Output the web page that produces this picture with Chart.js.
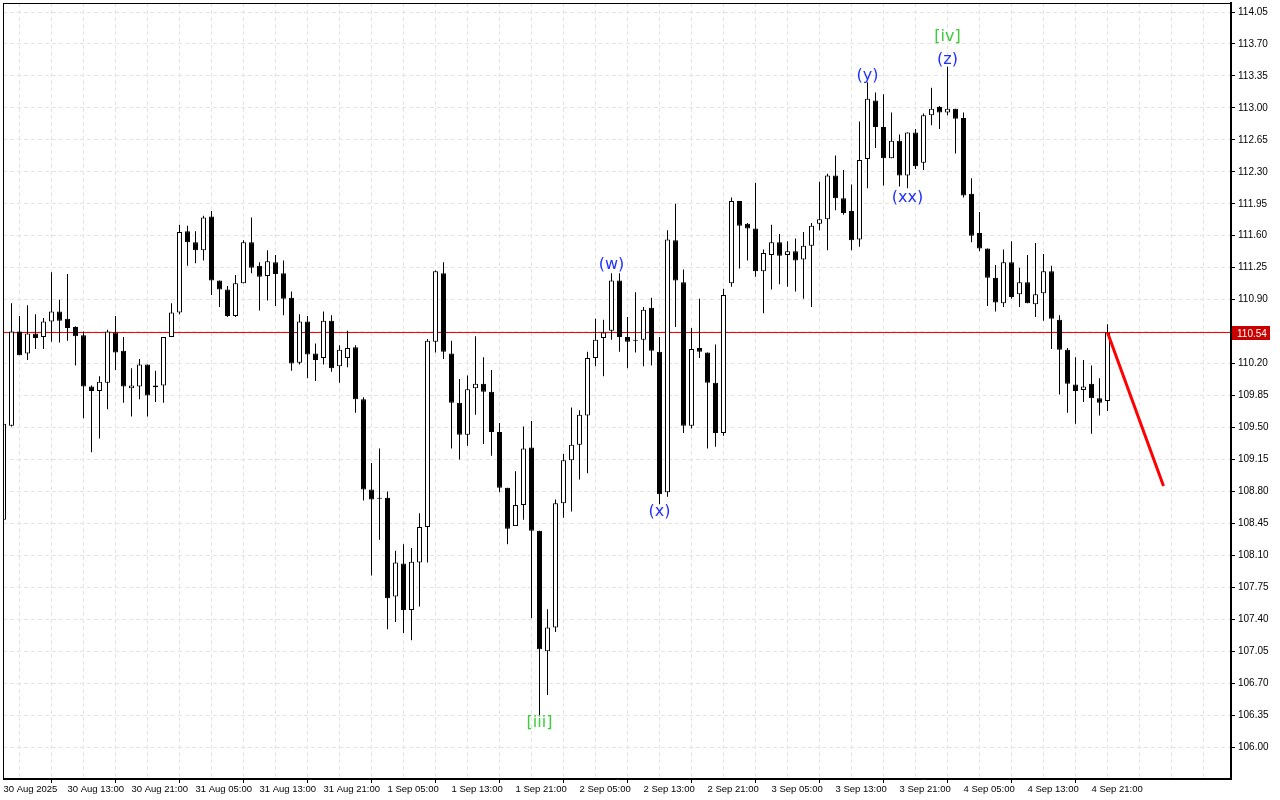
<!DOCTYPE html>
<html lang="en">
<head>
<meta charset="UTF-8">
<title>H1 candles 30 Aug - 4 Sep 2025</title>
<script src="https://cdn.jsdelivr.net/npm/chart.js"></script>
<style>
  html, body { margin: 0; padding: 0; background: #fff; }
  canvas { display: block; }
</style>
</head>
<body>
<canvas id="chart" width="1280" height="800"></canvas>
<script>
  // hourly bars, first one is 30 Aug 05:00
  const opens = [
    108.49, 109.52, 110.55, 110.31, 110.53, 110.49, 110.66, 110.77, 110.69, 110.60,
    110.51, 109.95, 109.90, 109.99, 110.54, 110.34, 109.93, 109.95, 110.19, 109.94,
    109.96, 110.49, 110.76, 111.65, 111.53, 111.44, 111.81, 111.11, 111.01, 110.72,
    111.08, 111.53, 111.27, 111.16, 111.31, 111.19, 110.92, 110.21, 110.66, 110.31,
    110.26, 110.67, 110.17, 110.26, 110.38, 109.81, 108.82, 108.72, 108.73, 107.65,
    108.01, 107.50, 108.02, 108.41, 110.44, 111.19, 110.31, 109.77, 109.42, 109.93,
    109.98, 109.89, 109.45, 108.84, 108.42, 108.65, 109.28, 108.37, 107.05, 107.31,
    108.67, 109.14, 109.31, 109.63, 110.26, 110.48, 110.56, 111.11, 110.49, 110.45,
    110.46, 110.81, 110.33, 108.79, 111.55, 111.09, 109.52, 110.37, 110.32, 109.99,
    109.44, 111.08, 111.98, 111.73, 111.68, 111.21, 111.39, 111.53, 111.39, 111.43,
    111.34, 111.49, 111.73, 111.78, 112.26, 112.01, 111.87, 111.56, 112.44, 113.08,
    112.79, 112.45, 112.64, 112.26, 112.73, 112.40, 112.92, 113.01, 112.95, 112.99,
    112.89, 112.06, 111.63, 111.46, 111.14, 110.86, 111.31, 110.96, 111.09, 110.85,
    110.97, 111.21, 110.68, 110.35, 109.97, 109.91, 109.98, 109.82, 109.79
  ];
  const highs = [
    109.60, 110.86, 110.72, 110.84, 110.74, 110.70, 111.20, 110.90, 111.18, 110.61,
    110.55, 109.96, 110.06, 110.57, 110.72, 110.49, 110.15, 110.25, 110.19, 110.12,
    110.49, 110.86, 111.72, 111.71, 111.65, 111.82, 111.87, 111.11, 111.05, 111.17,
    111.55, 111.80, 111.31, 111.44, 111.39, 111.33, 110.99, 110.74, 110.72, 110.42,
    110.77, 110.73, 110.40, 110.56, 110.40, 109.83, 109.11, 109.27, 108.80, 108.15,
    108.22, 108.18, 108.56, 110.47, 111.22, 111.31, 110.45, 110.03, 110.07, 110.50,
    110.27, 110.13, 109.55, 108.84, 109.02, 109.51, 109.57, 108.37, 107.51, 108.71,
    109.21, 109.72, 109.69, 110.33, 110.69, 110.68, 111.19, 111.19, 110.71, 110.98,
    110.82, 110.92, 110.49, 111.66, 111.95, 111.23, 110.59, 110.91, 110.32, 110.41,
    111.02, 112.02, 111.98, 111.74, 112.18, 111.45, 111.72, 111.62, 111.54, 111.57,
    111.64, 111.74, 112.19, 112.28, 112.48, 112.32, 112.16, 112.85, 113.28, 113.17,
    113.15, 112.95, 112.71, 112.73, 112.77, 112.94, 113.22, 113.02, 113.45, 112.99,
    112.95, 112.23, 111.86, 111.46, 111.28, 111.45, 111.54, 111.25, 111.39, 111.52,
    111.40, 111.27, 110.73, 110.37, 110.27, 110.24, 110.18, 110.04, 110.63
  ];
  const lows = [
    108.38, 109.51, 110.29, 110.24, 110.36, 110.36, 110.44, 110.43, 110.45, 110.18,
    109.60, 109.23, 109.38, 109.70, 110.13, 109.77, 109.62, 109.81, 109.62, 109.78,
    109.77, 110.49, 110.74, 111.27, 111.30, 111.33, 110.95, 110.82, 110.71, 110.71,
    111.08, 111.19, 110.78, 110.89, 110.83, 110.73, 110.12, 110.19, 110.04, 110.01,
    110.19, 110.11, 109.99, 110.16, 109.66, 108.70, 107.88, 108.27, 107.29, 107.37,
    107.25, 107.17, 107.54, 108.02, 110.32, 110.25, 109.27, 109.15, 109.30, 109.64,
    109.32, 109.19, 108.79, 108.22, 108.42, 108.49, 107.41, 106.35, 106.57, 107.26,
    108.51, 108.58, 108.93, 109.00, 110.17, 110.06, 110.46, 110.33, 110.15, 110.32,
    110.17, 110.18, 108.66, 108.74, 110.60, 109.44, 109.49, 110.26, 109.27, 109.29,
    109.41, 111.04, 111.24, 111.33, 111.15, 110.75, 111.01, 111.07, 111.04, 110.99,
    110.91, 110.82, 111.66, 111.44, 111.88, 111.83, 111.44, 111.48, 112.12, 112.56,
    112.15, 112.45, 112.14, 112.12, 112.33, 112.32, 112.81, 112.77, 112.92, 112.50,
    112.02, 111.53, 111.43, 110.83, 110.77, 110.82, 110.91, 110.82, 110.86, 110.71,
    110.67, 110.36, 109.86, 109.66, 109.54, 109.78, 109.43, 109.63, 109.68
  ];
  const closes = [
    109.54, 110.55, 110.29, 110.53, 110.48, 110.66, 110.77, 110.67, 110.59, 110.50,
    109.95, 109.90, 110.00, 110.55, 110.32, 109.95, 109.96, 110.19, 109.85, 109.96,
    110.49, 110.76, 111.64, 111.53, 111.44, 111.80, 111.11, 111.01, 110.72, 111.08,
    111.53, 111.25, 111.15, 111.32, 111.18, 110.91, 110.20, 110.66, 110.30, 110.24,
    110.67, 110.15, 110.35, 110.37, 109.81, 108.82, 108.71, 108.73, 107.63, 108.02,
    107.50, 108.03, 108.41, 110.45, 111.21, 110.33, 109.77, 109.42, 109.92, 109.98,
    109.89, 109.45, 108.84, 108.39, 108.65, 109.27, 108.37, 107.07, 107.31, 108.67,
    109.14, 109.31, 109.64, 110.26, 110.46, 110.54, 111.11, 110.49, 110.44, 110.46,
    110.79, 110.34, 108.77, 111.56, 111.11, 109.52, 110.36, 110.33, 109.99, 109.44,
    110.95, 111.98, 111.71, 111.68, 111.21, 111.41, 111.53, 111.38, 111.43, 111.33,
    111.49, 111.71, 111.78, 112.26, 112.01, 111.85, 111.55, 112.43, 113.10, 112.79,
    112.45, 112.64, 112.26, 112.73, 112.36, 112.92, 112.99, 112.95, 112.99, 112.88,
    112.04, 111.60, 111.46, 111.14, 110.87, 111.31, 110.93, 111.09, 110.86, 110.96,
    111.21, 110.69, 110.35, 109.98, 109.90, 109.95, 109.82, 109.77, 110.54
  ];

  // one label every 8 bars, starting at bar 0
  const xTickLabels = [
    '30 Aug 2025', '30 Aug 13:00', '30 Aug 21:00', '31 Aug 05:00', '31 Aug 13:00',
    '31 Aug 21:00', '1 Sep 05:00', '1 Sep 13:00', '1 Sep 21:00', '2 Sep 05:00',
    '2 Sep 13:00', '2 Sep 21:00', '3 Sep 05:00', '3 Sep 13:00', '3 Sep 21:00',
    '4 Sep 05:00', '4 Sep 13:00', '4 Sep 21:00'
  ];
  const yTicks = [
    106.00, 106.35, 106.70, 107.05, 107.40, 107.75, 108.10, 108.45, 108.80, 109.15,
    109.50, 109.85, 110.20, 110.55, 110.90, 111.25, 111.60, 111.95, 112.30, 112.65,
    113.00, 113.35, 113.70, 114.05
  ];

  const lastPrice = 110.54;
  const forecastBars = [138, 145];
  const forecastPrices = [110.54, 108.86];

  const waveTexts  = ['(w)', '(x)', '(y)', '(z)', '(xx)', '[iii]', '[iv]'];
  const waveBars   = [76, 82, 108, 118, 113, 67, 118];
  const wavePrices = [111.28, 108.58, 113.35, 113.53, 112.01, 106.27, 113.78];
  const waveColors = ['#2030ff', '#2030ff', '#2030ff', '#2030ff', '#2030ff', '#3ccc3c', '#3ccc3c'];

  const xMin = -0.0625, xMax = 153.4375;
  const yMin = 105.65, yMax = 114.149;

  const idx = opens.map((_, i) => i);
  const wicks = idx.map(i => ({ x: i, y: [lows[i], highs[i]] }));
  const bodies = idx.map(i => ({ x: i, y: [opens[i], closes[i]] }));
  const bodyFill = idx.map(i => closes[i] >= opens[i] ? '#ffffff' : '#000000');

  // scales should not reserve extra room for half labels at the ends
  const noPad = s => { s.paddingTop = 0; s.paddingBottom = 0; s.paddingLeft = 0; s.paddingRight = 0; };

  const frame = {
    id: 'frame',
    afterDatasetsDraw(chart) {
      const { ctx, chartArea: a } = chart;
      ctx.save();
      ctx.strokeStyle = '#000';
      ctx.lineWidth = 1;
      ctx.strokeRect(a.left + 0.5, a.top + 0.5, a.right - a.left - 1, a.bottom - a.top - 1);
      ctx.restore();
    }
  };

  const waveLabels = {
    id: 'waveLabels',
    afterDatasetsDraw(chart) {
      const { ctx, scales: { x, y } } = chart;
      ctx.save();
      ctx.font = '16px "DejaVu Sans"';
      ctx.textAlign = 'center';
      ctx.textBaseline = 'middle';
      waveTexts.forEach((t, i) => {
        ctx.fillStyle = waveColors[i];
        ctx.fillText(t, x.getPixelForValue(waveBars[i]), y.getPixelForValue(wavePrices[i]));
      });
      ctx.restore();
    }
  };

  const priceBox = {
    id: 'priceBox',
    afterDraw(chart) {
      const { ctx, chartArea: a, scales: { y } } = chart;
      const py = Math.round(y.getPixelForValue(lastPrice));
      ctx.save();
      ctx.fillStyle = '#c80000';
      ctx.fillRect(a.right + 1, py - 7, 38, 14);
      ctx.fillStyle = '#fff';
      ctx.font = '10px "Liberation Sans"';
      ctx.textBaseline = 'middle';
      ctx.fillText(lastPrice.toFixed(2), a.right + 6, py + 1);
      ctx.restore();
    }
  };

  new Chart(document.getElementById('chart'), {
    type: 'bar',
    data: {
      datasets: [
        {
          type: 'line',
          data: forecastBars.map((b, i) => ({ x: b, y: forecastPrices[i] })),
          borderColor: '#ff0000',
          borderWidth: 3,
          pointRadius: 0,
          order: 1
        },
        {
          data: bodies,
          backgroundColor: bodyFill,
          borderColor: '#000',
          borderWidth: 1,
          borderSkipped: false,
          barThickness: 5,
          minBarLength: 1,
          inflateAmount: 0,
          grouped: false,
          order: 2
        },
        {
          data: wicks,
          backgroundColor: '#000',
          borderWidth: 0,
          barThickness: 1,
          inflateAmount: 0,
          grouped: false,
          order: 3
        },
        {
          type: 'line',
          data: [{ x: xMin, y: lastPrice }, { x: xMax, y: lastPrice }],
          borderColor: '#ff0000',
          borderWidth: 1,
          pointRadius: 0,
          order: 4
        }
      ]
    },
    options: {
      responsive: false,
      animation: false,
      devicePixelRatio: 1,
      layout: { padding: { left: 3, top: 3, right: 0, bottom: 0 } },
      plugins: { legend: { display: false }, tooltip: { enabled: false } },
      scales: {
        x: {
          type: 'linear',
          min: xMin,
          max: xMax,
          offset: false,
          afterBuildTicks: s => {
            s.ticks = [];
            for (let k = 0; k <= 152; k += 4) s.ticks.push({ value: k });
          },
          afterFit: s => { s.height = 21; noPad(s); },
          ticks: {
            autoSkip: false,
            maxRotation: 0,
            align: 'start',
            padding: 1,
            color: '#000',
            font: { family: 'Liberation Sans', size: 9.5 },
            callback: v => (v % 8 === 0 && v / 8 < xTickLabels.length) ? xTickLabels[v / 8] : ''
          },
          grid: {
            color: '#e4e4e4',
            tickLength: 4,
            tickColor: c => (c.tick && c.tick.value % 8 === 0 && c.tick.value / 8 < xTickLabels.length) ? '#000' : 'rgba(0,0,0,0)'
          },
          border: { color: '#000', width: 1, dash: [4, 3] }
        },
        y: {
          type: 'linear',
          position: 'right',
          min: yMin,
          max: yMax,
          afterBuildTicks: s => { s.ticks = yTicks.map(v => ({ value: v })); },
          afterFit: s => { s.width = 49; noPad(s); },
          ticks: {
            padding: 3,
            color: '#000',
            font: { family: 'Liberation Sans', size: 10 },
            callback: v => v.toFixed(2)
          },
          grid: { color: '#e4e4e4', tickLength: 4, tickColor: '#000' },
          border: { color: '#000', width: 2, dash: [4, 3] }
        }
      }
    },
    plugins: [frame, waveLabels, priceBox]
  });
</script>
</body>
</html>
